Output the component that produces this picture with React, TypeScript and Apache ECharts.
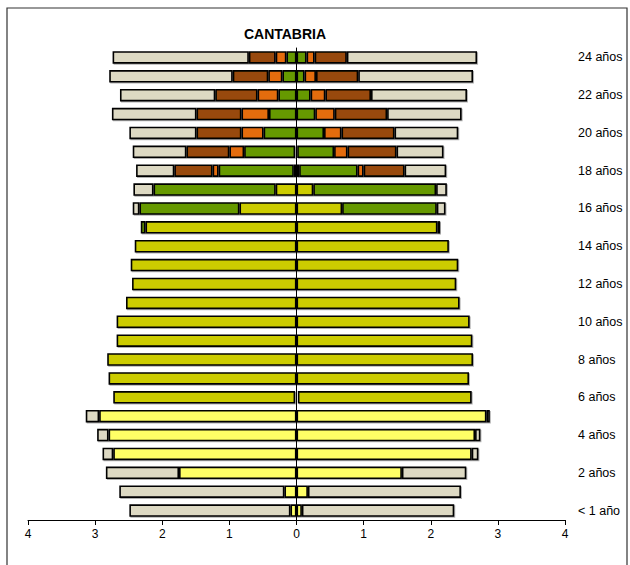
import React, { useEffect, useRef } from "react";
import * as echarts from "echarts";

// Age categories (index = age in years)
const ages: string[] = [
  "< 1 año", "1 año", "2 años", "3 años", "4 años", "5 años", "6 años", "7 años", "8 años", "9 años",
  "10 años", "11 años", "12 años", "13 años", "14 años", "15 años", "16 años", "17 años", "18 años", "19 años",
  "20 años", "21 años", "22 años", "23 años", "24 años",
];

const xTicks: number[] = [-4, -3, -2, -1, 0, 1, 2, 3, 4];

// Left side (drawn to the left) values per age 0..24
const leftBlack: number[] = [0, 0, 0, 0, 0, 0, 0.02, 0, 0, 0, 0, 0, 0, 0, 0, 0, 0, 0, 0.04, 0.02, 0, 0, 0, 0, 0];
const leftYellow: number[] = [0.09, 0.18, 1.75, 2.73, 2.8, 2.94, 0, 0, 0, 0, 0, 0, 0, 0, 0, 0, 0, 0, 0, 0, 0, 0, 0, 0, 0];
const leftOlive: number[] = [0, 0, 0, 0, 0, 0, 2.71, 2.8, 2.82, 2.68, 2.68, 2.54, 2.45, 2.47, 2.41, 2.25, 0.85, 0.31, 0, 0, 0, 0, 0, 0, 0];
const leftGreen: number[] = [0, 0, 0, 0, 0, 0, 0, 0, 0, 0, 0, 0, 0, 0, 0, 0.07, 1.49, 1.82, 1.12, 0.76, 0.49, 0.41, 0.27, 0.21, 0.15];
const leftOrange: number[] = [0, 0, 0, 0, 0, 0, 0, 0, 0, 0, 0, 0, 0, 0, 0, 0, 0, 0, 0.09, 0.22, 0.33, 0.41, 0.31, 0.21, 0.16];
const leftBrown: number[] = [0, 0, 0, 0, 0, 0, 0, 0, 0, 0, 0, 0, 0, 0, 0, 0, 0, 0, 0.57, 0.64, 0.67, 0.67, 0.63, 0.53, 0.4];
const leftBeige: number[] = [2.4, 2.46, 1.09, 0.16, 0.17, 0.2, 0, 0, 0, 0, 0, 0, 0, 0, 0, 0, 0.1, 0.3, 0.57, 0.8, 1.0, 1.26, 1.42, 1.84, 2.03];

// Right side values per age 0..24
const rightBlack: number[] = [0, 0, 0, 0, 0, 0, 0.02, 0, 0, 0, 0, 0, 0, 0, 0, 0, 0, 0, 0.04, 0.01, 0, 0, 0, 0, 0];
const rightYellow: number[] = [0.08, 0.17, 1.57, 2.61, 2.66, 2.83, 0, 0, 0, 0, 0, 0, 0, 0, 0, 0, 0, 0, 0, 0, 0, 0, 0, 0, 0];
const rightOlive: number[] = [0, 0, 0, 0, 0, 0, 2.59, 2.57, 2.63, 2.62, 2.58, 2.43, 2.38, 2.41, 2.27, 2.1, 0.68, 0.25, 0, 0, 0, 0, 0, 0, 0];
const rightGreen: number[] = [0, 0, 0, 0, 0, 0, 0, 0, 0, 0, 0, 0, 0, 0, 0, 0.04, 1.41, 1.83, 0.87, 0.55, 0.41, 0.28, 0.21, 0.12, 0.15];
const rightOrange: number[] = [0, 0, 0, 0, 0, 0, 0, 0, 0, 0, 0, 0, 0, 0, 0, 0, 0, 0, 0.09, 0.2, 0.26, 0.29, 0.22, 0.17, 0.12];
const rightBrown: number[] = [0, 0, 0, 0, 0, 0, 0, 0, 0, 0, 0, 0, 0, 0, 0, 0, 0, 0, 0.61, 0.73, 0.79, 0.78, 0.68, 0.63, 0.48];
const rightBeige: number[] = [2.27, 2.28, 0.96, 0.1, 0.08, 0.05, 0, 0, 0, 0, 0, 0, 0, 0, 0, 0, 0.13, 0.16, 0.62, 0.7, 0.95, 1.11, 1.43, 1.71, 1.94];

const segments = [
  { name: "Especial", color: "#000000", left: leftBlack, right: rightBlack },
  { name: "Infantil", color: "#FFFF66", left: leftYellow, right: rightYellow },
  { name: "Primaria", color: "#CCCC00", left: leftOlive, right: rightOlive },
  { name: "ESO", color: "#669900", left: leftGreen, right: rightGreen },
  { name: "Bachillerato", color: "#E46C0A", left: leftOrange, right: rightOrange },
  { name: "Universidad", color: "#984807", left: leftBrown, right: rightBrown },
  { name: "No estudia", color: "#DDD9C3", left: leftBeige, right: rightBeige },
];

const FONT = "'Liberation Sans', Arial, sans-serif";

export default function App() {
  const ref = useRef<HTMLDivElement>(null);

  useEffect(() => {
    if (!ref.current) return;
    const chart = echarts.init(ref.current, undefined, { renderer: "svg" });

    const mk = (arr: number[], sign: number) => arr.map((v) => (v === 0 ? "-" : sign * v));

    const series: any[] = [];
    (["left", "right"] as const).forEach((side) => {
      segments.forEach((s) => {
        series.push({
          name: s.name + (side === "left" ? " L" : " R"),
          type: "bar",
          stack: side,
          yAxisIndex: 0,
          barWidth: 12.5,
          barGap: "-100%",
          data: mk(s[side], side === "left" ? -1 : 1),
          itemStyle: {
            color: s.color,
            borderColor: "#000",
            borderWidth: 1.6,
            shadowColor: "rgba(0,0,0,0.3)",
            shadowBlur: 0,
            shadowOffsetX: 1,
            shadowOffsetY: 1,
          },
        });
      });
    });

    chart.setOption({
      animation: false,
      backgroundColor: "#ffffff",
      grid: { left: 28, right: 65, top: 48, bottom: 45, containLabel: false },
      xAxis: {
        type: "value",
        min: xTicks[0],
        max: xTicks[xTicks.length - 1],
        interval: 1,
        axisLine: { show: true, onZero: false, lineStyle: { color: "#000", width: 1 } },
        axisTick: { show: true, length: 5, lineStyle: { color: "#000" } },
        axisLabel: {
          formatter: (v: number) => String(Math.abs(v)),
          color: "#000",
          fontSize: 12,
          fontFamily: FONT,
          margin: 8,
        },
        splitLine: { show: false },
      },
      yAxis: [
        {
          type: "category",
          data: ages,
          z: 10,
          axisLine: { show: true, onZero: true, lineStyle: { color: "#000", width: 1 } },
          axisTick: { show: false },
          axisLabel: { show: false },
        },
        {
          type: "category",
          data: ages,
          position: "right",
          axisLine: { show: false },
          axisTick: { show: false },
          axisLabel: {
            interval: 1,
            color: "#000",
            fontSize: 12.5,
            fontFamily: FONT,
            margin: 13,
          },
        },
      ],
      graphic: [
        {
          type: "rect",
          shape: { x: 7, y: 8, width: 620, height: 580 },
          style: { fill: "none", stroke: "#333", lineWidth: 1.2 },
          silent: true,
        },
        {
          type: "text",
          x: 285,
          y: 33.5,
          style: {
            text: "CANTABRIA",
            fill: "#000",
            font: `bold 14px ${FONT}`,
            textAlign: "center",
            textVerticalAlign: "middle",
          },
        },
      ],
      series,
    });

    return () => chart.dispose();
  }, []);

  return (
    <div
      ref={ref}
      style={{ position: "absolute", left: 0, top: 0, width: 630, height: 565, background: "#fff" }}
    />
  );
}
